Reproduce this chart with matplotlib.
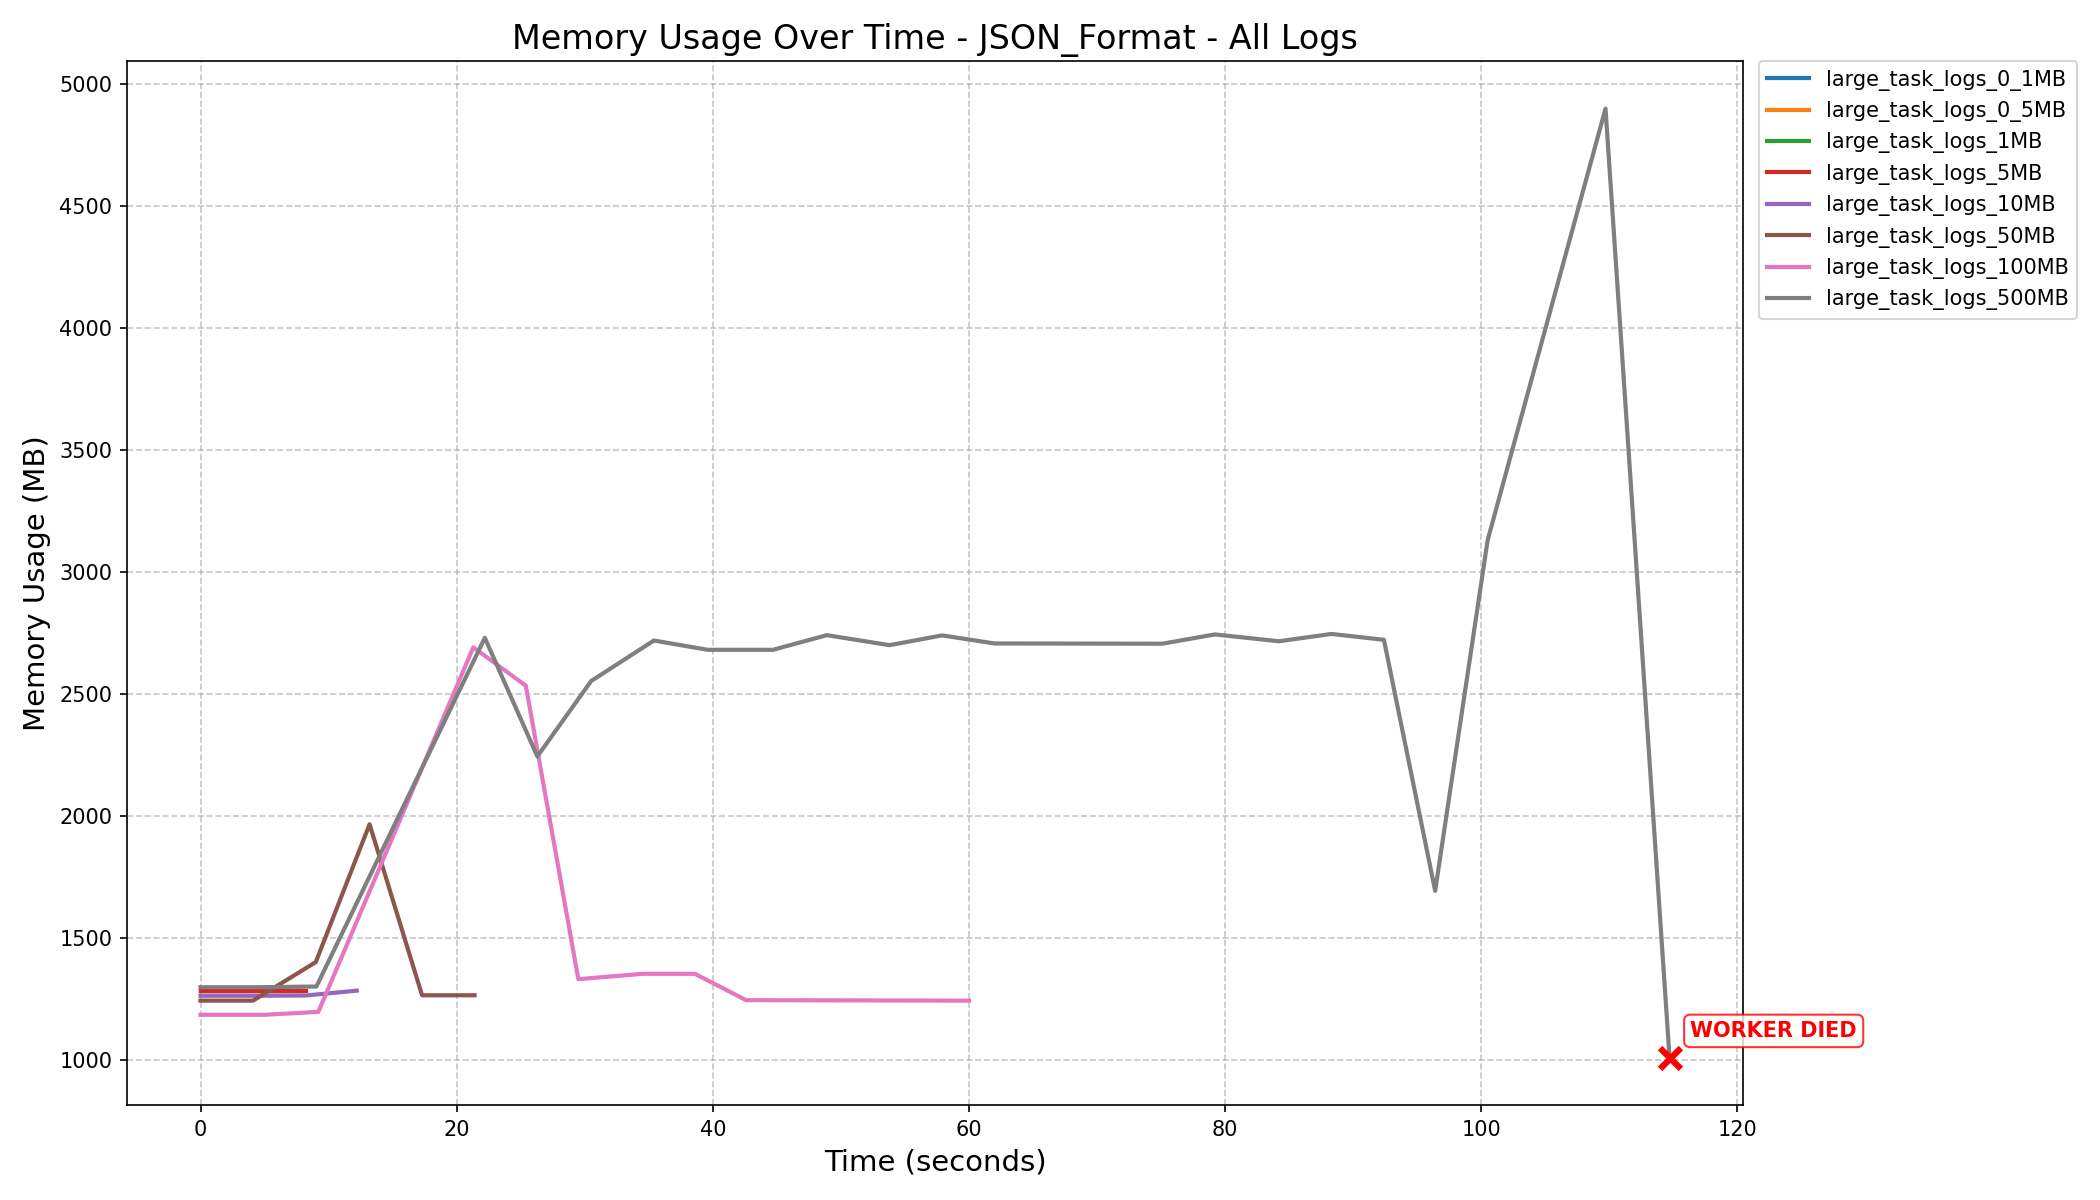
import numpy as np
import matplotlib.pyplot as plt


# time (s) and memory (MB) per log size
t_0_1mb = [0.0, 4.0, 8.0]
m_0_1mb = [1280, 1280, 1280]

t_0_5mb = [0.0, 4.0, 8.0]
m_0_5mb = [1281, 1281, 1281]

t_1mb = [0.0, 4.1, 8.1]
m_1mb = [1282, 1282, 1282]

t_5mb = [0.0, 4.1, 8.2]
m_5mb = [1281, 1281, 1281]

t_10mb = [0.0, 4.0, 8.2, 12.2]
m_10mb = [1262, 1262, 1263, 1283]

t_50mb = [0.0, 4.1, 9.0, 13.2, 17.3, 21.4]
m_50mb = [1242, 1242, 1400, 1965, 1264, 1264]

t_100mb = [0.0, 5.0, 9.2, 21.3, 25.4, 29.5, 34.5, 38.6, 42.6, 60.0]
m_100mb = [1184, 1184, 1196, 2690, 2533, 1330, 1352, 1352, 1244, 1242]

t_500mb = [0.0, 4.5, 9.05, 22.2, 26.3, 30.5, 35.4, 39.6, 44.7, 48.9, 53.8, 57.9,
           62.0, 75.1, 79.2, 84.2, 88.3, 92.4, 96.4, 100.5, 109.7, 114.7]
m_500mb = [1297, 1297, 1300, 2729, 2243, 2552, 2718, 2680, 2680, 2740, 2699, 2739,
           2706, 2705, 2743, 2715, 2745, 2721, 1692, 3130, 4898, 1008]

names = ["large_task_logs_0_1MB", "large_task_logs_0_5MB", "large_task_logs_1MB",
         "large_task_logs_5MB", "large_task_logs_10MB", "large_task_logs_50MB",
         "large_task_logs_100MB", "large_task_logs_500MB"]
times = [t_0_1mb, t_0_5mb, t_1mb, t_5mb, t_10mb, t_50mb, t_100mb, t_500mb]
mems = [m_0_1mb, m_0_5mb, m_1mb, m_5mb, m_10mb, m_50mb, m_100mb, m_500mb]


fig, ax = plt.subplots(figsize=(14, 8), dpi=150)
fig.subplots_adjust(left=0.0605, right=0.830, top=0.949, bottom=0.079)

for name, t, m in zip(names, times, mems):
    ax.plot(t, m, label=name, linewidth=2)

# worker crash marker at last point of the 500MB run
ax.scatter(t_500mb[-1], m_500mb[-1], marker='x', color='red', s=100,
           linewidths=3, zorder=5)
ax.annotate("WORKER DIED", (t_500mb[-1], m_500mb[-1]),
            xytext=(10, 10), textcoords='offset points',
            fontsize=10, fontweight='bold', color='red',
            bbox=dict(boxstyle='round,pad=0.3', facecolor='white',
                      edgecolor='red', alpha=0.8))

ax.set_title("Memory Usage Over Time - JSON_Format - All Logs", fontsize=16)
ax.set_xlabel("Time (seconds)", fontsize=14)
ax.set_ylabel("Memory Usage (MB)", fontsize=14)
ax.grid(True, linestyle='--', alpha=0.7)
ax.legend(bbox_to_anchor=(1.01, 1), loc='upper left', borderaxespad=0)

plt.savefig("out.png", dpi=150)
